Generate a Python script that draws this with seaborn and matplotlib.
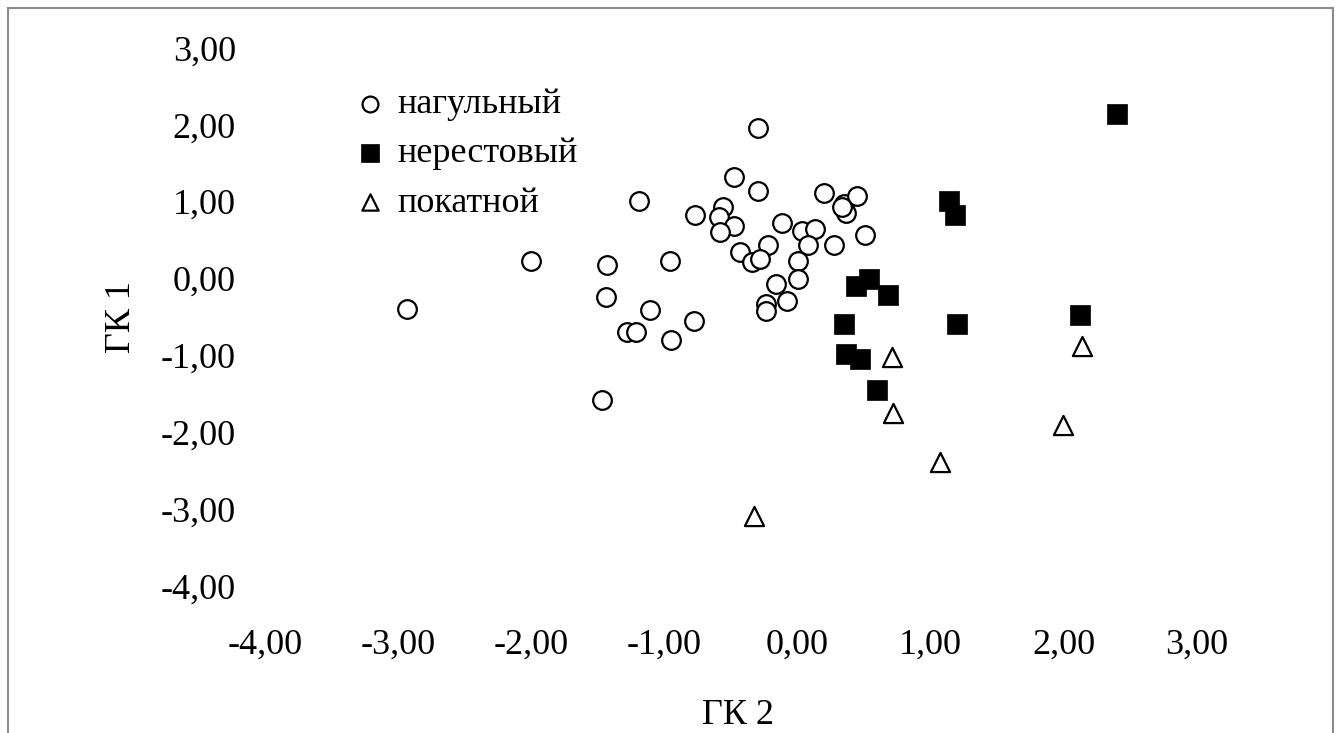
import numpy as np
import pandas as pd
import matplotlib
matplotlib.use("Agg")
import matplotlib.pyplot as plt
import seaborn as sns
from matplotlib.patches import Rectangle

# ---- data ----
nag_x = [-0.30, -0.48, -0.30, -1.19, -0.77, -0.56, -0.59, -0.48, -0.58, 0.20,
         0.35, 0.45, 0.36, 0.33, 0.51, -0.12, 0.03, 0.13, 0.08, 0.27,
         -0.22, -0.43, -0.34, -0.28, 0.00, 0.00, -0.16, -0.08, -0.24, -0.24,
         -1.43, -0.96, -1.44, -1.11, -0.78, -1.28, -1.21, -0.95, -2.00, -2.93,
         -1.47]
nag_y = [1.96, 1.32, 1.14, 1.01, 0.83, 0.93, 0.80, 0.69, 0.61, 1.11,
         0.97, 1.08, 0.85, 0.93, 0.57, 0.72, 0.62, 0.65, 0.44, 0.44,
         0.44, 0.34, 0.22, 0.25, 0.23, 0.00, -0.07, -0.29, -0.33, -0.42,
         0.18, 0.23, -0.24, -0.41, -0.55, -0.70, -0.69, -0.80, 0.23, -0.39,
         -1.58]

ner_x = [1.14, 1.18, 0.54, 0.44, 0.68, 0.35, 1.20, 2.12, 0.36, 0.47, 0.60, 2.40]
ner_y = [1.01, 0.83, -0.01, -0.10, -0.21, -0.59, -0.59, -0.47, -0.98, -1.04, -1.45, 2.14]

pok_x = [0.71, 2.14, 0.72, 1.99, 1.07, -0.33]
pok_y = [-1.02, -0.88, -1.75, -1.90, -2.39, -3.09]

group_names = ["нагульный", "нерестовый", "покатной"]
tick_values = [-4, -3, -2, -1, 0, 1, 2, 3]
tick_labels = ["-4,00", "-3,00", "-2,00", "-1,00", "0,00", "1,00", "2,00", "3,00"]
x_title = "ГК 2"
y_title = "ГК 1"

df = pd.DataFrame({
    "x": nag_x + ner_x + pok_x,
    "y": nag_y + ner_y + pok_y,
    "group": [group_names[0]] * len(nag_x) + [group_names[1]] * len(ner_x) + [group_names[2]] * len(pok_x),
})

sns.set_theme(style="white")
plt.rcParams["font.family"] = ["Liberation Serif", "DejaVu Serif"]
plt.rcParams["text.color"] = "black"

FS = 26
fig = plt.figure(figsize=(13.36, 7.33), dpi=100)
fig.patch.set_facecolor("white")
ax = fig.add_axes([265 / 1336, 1 - 586 / 733, (1197 - 265) / 1336, (586 - 48) / 733])
ax.set_facecolor("white")

styles = {
    group_names[0]: dict(marker="o", facecolor="white", edgecolor="black", s=180, linewidth=1.6),
    group_names[1]: dict(marker="s", facecolor="black", edgecolor="black", s=215, linewidth=0.5),
    group_names[2]: dict(marker="^", facecolor="white", edgecolor="black", s=190, linewidth=1.6),
}
for g in group_names:
    st = styles[g]
    sub = df[df["group"] == g]
    sns.scatterplot(data=sub, x="x", y="y", ax=ax, marker=st["marker"], color=st["facecolor"],
                    edgecolor=st["edgecolor"], s=st["s"], linewidth=st["linewidth"], label=g,
                    zorder=3, clip_on=False)

ax.set_xlim(-4, 3)
ax.set_ylim(-4, 3)
ax.set_xticks(tick_values)
ax.set_xticklabels(tick_labels)
ax.set_yticks(tick_values)
ax.set_yticklabels(tick_labels)
for sp in ax.spines.values():
    sp.set_visible(False)
ax.tick_params(axis="both", length=0, labelsize=FS, colors="black")
ax.tick_params(axis="y", pad=21)
ax.tick_params(axis="x", pad=31)
ax.grid(False)

ax.set_xlabel(x_title, fontsize=FS, color="black")
ax.set_ylabel(y_title, fontsize=FS, color="black")
ax.xaxis.label.set_va("center")
ax.yaxis.label.set_va("center")
ax.xaxis.set_label_coords((738 - 265) / 932, (586 - 716) / 538)
ax.yaxis.set_label_coords((122 - 265) / 932, 0.5)

leg = ax.legend(frameon=False, loc="upper left",
                bbox_to_anchor=((356 - 265) / 932, 1 - (88 - 48) / 538),
                fontsize=FS, markerscale=0.85, handlelength=0.8, handletextpad=0.35,
                labelspacing=0.44, borderpad=0, borderaxespad=0)

fig.add_artist(Rectangle((7.5 / 1336, -0.02), (1333 - 7.5) / 1336, 1.02 - 8 / 733,
                         transform=fig.transFigure, fill=False, edgecolor="#8a8a8a",
                         linewidth=1.5, clip_on=False))

fig.savefig("out.png", dpi=100, facecolor="white")
